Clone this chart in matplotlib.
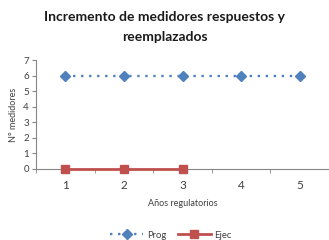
import matplotlib
matplotlib.use("Agg")
import matplotlib.pyplot as plt
from matplotlib.ticker import FixedLocator

plt.rcParams['font.family'] = ['Lato', 'DejaVu Sans']

years = [1, 2, 3, 4, 5]
prog = [6, 6, 6, 6, 6]
ejec_years = [1, 2, 3]
ejec = [0, 0, 0]

fig = plt.figure(figsize=(3.29, 2.40), dpi=100)
ax = fig.add_axes([36/329, 1-169/240, 293/329, 109/240])

ax.plot(years, prog, color='#4F81BD', linestyle=(0, (1, 2.4)), linewidth=1.7,
        marker='D', markersize=5.5, label='Prog')
ax.plot(ejec_years, ejec, color='#C0504D', linewidth=2.0,
        marker='s', markersize=5.5, label='Ejec', clip_on=False, zorder=5)

ax.set_xlim(0.5, 5.5)
ax.set_ylim(0, 7)
ax.set_yticks(range(0, 8))
ax.set_xticks(years)
ax.xaxis.set_minor_locator(FixedLocator([0.5, 1.5, 2.5, 3.5, 4.5, 5.5]))
ax.tick_params(axis='x', which='major', length=0, labelsize=8.5, pad=8, colors='#404040')
ax.tick_params(axis='x', which='minor', length=3, color='#868686')
ax.tick_params(axis='y', length=3, labelsize=7, color='#868686', labelcolor='#404040', pad=2)

for s in ['top', 'right']:
    ax.spines[s].set_visible(False)
for s in ['left', 'bottom']:
    ax.spines[s].set_color('#868686')
    ax.spines[s].set_linewidth(0.8)

ax.set_xlabel('Años regulatorios', fontsize=6.5, color='#404040', labelpad=6)
ax.set_ylabel('N° medidores', fontsize=6.5, color='#404040', labelpad=4)

fig.text(0.5, 1-17/240, 'Incremento de medidores respuestos y', fontsize=10,
         fontweight='bold', ha='center', va='center', color='#1a1a1a')
fig.text(0.5, 1-37/240, 'reemplazados', fontsize=10,
         fontweight='bold', ha='center', va='center', color='#1a1a1a')

fig.legend(loc='center', bbox_to_anchor=(0.52, 1-235/240), ncol=2, frameon=False,
           fontsize=6.8, handlelength=3.5, columnspacing=1.2, handletextpad=0.4,
           labelcolor='#404040')

fig.savefig('out.png', dpi=100)
